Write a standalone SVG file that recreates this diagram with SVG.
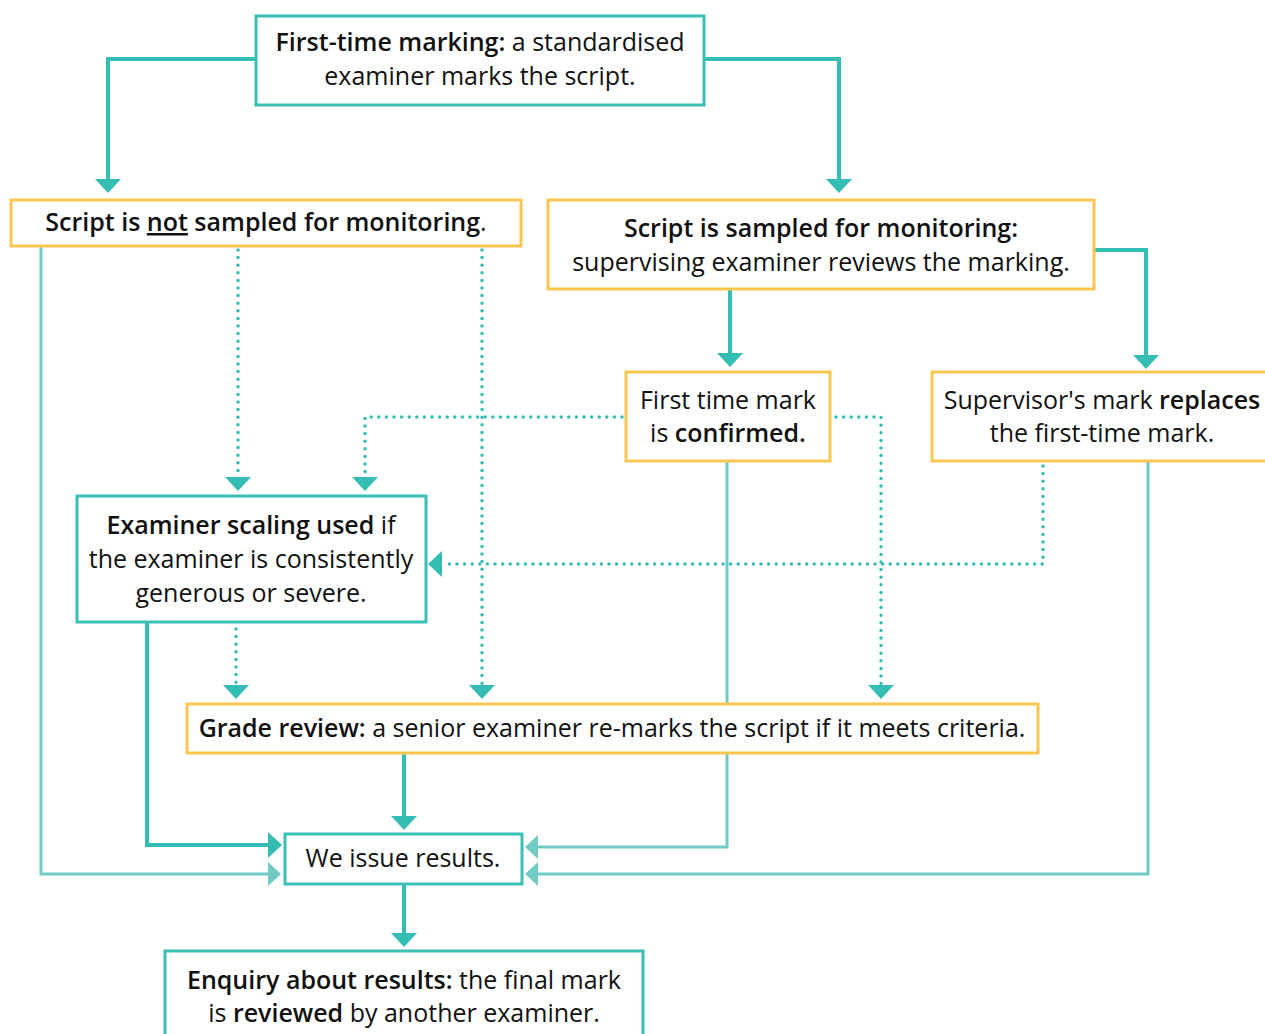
<svg xmlns="http://www.w3.org/2000/svg" width="1265" height="1034" viewBox="0 0 1265 1034">
<style>
.bt{fill:#fff;stroke:#3abfb5;stroke-width:3}
.bo{fill:#fff;stroke:#fbc650;stroke-width:3}
text{font-family:"Open Sans",Lato,"Liberation Sans",sans-serif;font-size:25px;fill:#111;text-anchor:middle}
.b{font-weight:600}
.s{fill:none;stroke:#34bdb3;stroke-width:4}
.l{fill:none;stroke:#6fcbc4;stroke-width:3}
.d{fill:none;stroke:#34bdb3;stroke-width:3.5;stroke-dasharray:0 7.6;stroke-linecap:round}
.ah{fill:#34bdb3}
.al{fill:#6fcbc4}
</style>
<rect width="1265" height="1034" fill="#fff"/>
<g id="connectors">
<path class="s" d="M256 59H108V180"/>
<polygon class="ah" points="95,179 121,179 108,193"/>
<path class="s" d="M704 59H839V180"/>
<polygon class="ah" points="826,179 852,179 839,193"/>
<path class="s" d="M1094 250H1146V357"/>
<polygon class="ah" points="1133,355 1159,355 1146,369"/>
<path class="s" d="M730 289V355"/>
<polygon class="ah" points="717,353 743,353 730,367"/>
<path class="d" d="M238 250V474"/>
<polygon class="ah" points="225,477 251,477 238,491"/>
<path class="d" d="M482 250V684"/>
<polygon class="ah" points="469,685 495,685 482,699"/>
<path class="d" d="M622 417H365V474"/>
<polygon class="ah" points="352,477 378,477 365,491"/>
<path class="d" d="M836 417H881V684"/>
<polygon class="ah" points="868,685 894,685 881,699"/>
<path class="d" d="M1043 466V564H446"/>
<polygon class="ah" points="442,551 442,577 428,564"/>
<path class="d" d="M236 629V684"/>
<polygon class="ah" points="223,685 249,685 236,699"/>
<path class="s" d="M147 622V845H270"/>
<polygon class="ah" points="268,832 268,858 282,845"/>
<path class="l" d="M41 246V874H270"/>
<polygon class="al" points="268,862 268,886 281,874"/>
<path class="l" d="M727 461V847H538"/>
<polygon class="al" points="538,835 538,859 525,847"/>
<path class="l" d="M1148 461V874H538"/>
<polygon class="al" points="538,862 538,886 525,874"/>
<path class="s" d="M404 753V818"/>
<polygon class="ah" points="391,816 417,816 404,830"/>
<path class="s" d="M404 884V935"/>
<polygon class="ah" points="391,933 417,933 404,947"/>
</g>
<g id="n1">
<rect class="bt" x="256" y="16" width="448" height="89"/>
<text x="480" y="51"><tspan class="b">First-time marking:</tspan> a standardised</text>
<text x="480" y="85">examiner marks the script.</text>
</g>
<g id="n2">
<rect class="bo" x="11" y="200" width="510" height="46"/>
<text x="266" y="231"><tspan class="b">Script is <tspan text-decoration="underline">not</tspan> sampled for monitoring</tspan>.</text>
</g>
<g id="n3">
<rect class="bo" x="548" y="200" width="546" height="89"/>
<text x="821" y="237" class="b">Script is sampled for monitoring:</text>
<text x="821" y="271">supervising examiner reviews the marking.</text>
</g>
<g id="n4">
<rect class="bo" x="626" y="372" width="204" height="89"/>
<text x="728" y="409">First time mark</text>
<text x="728" y="442">is <tspan class="b">confirmed.</tspan></text>
</g>
<g id="n5">
<rect class="bo" x="932" y="372" width="340" height="89"/>
<text x="1102" y="409">Supervisor's mark <tspan class="b">replaces</tspan></text>
<text x="1102" y="442">the first-time mark.</text>
</g>
<g id="n6">
<rect class="bt" x="77" y="496" width="349" height="126"/>
<text x="251" y="534"><tspan class="b">Examiner scaling used</tspan> if</text>
<text x="251" y="568">the examiner is consistently</text>
<text x="251" y="602">generous or severe.</text>
</g>
<g id="n7">
<rect class="bo" x="187" y="704" width="851" height="49"/>
<text x="612" y="737"><tspan class="b">Grade review:</tspan> a senior examiner re-marks the script if it meets criteria.</text>
</g>
<g id="n8">
<rect class="bt" x="285" y="834" width="237" height="50"/>
<text x="403" y="867">We issue results.</text>
</g>
<g id="n9">
<rect class="bt" x="165" y="951" width="478" height="100"/>
<text x="404" y="989"><tspan class="b">Enquiry about results:</tspan> the final mark</text>
<text x="404" y="1022">is <tspan class="b">reviewed</tspan> by another examiner.</text>
</g>
</svg>
